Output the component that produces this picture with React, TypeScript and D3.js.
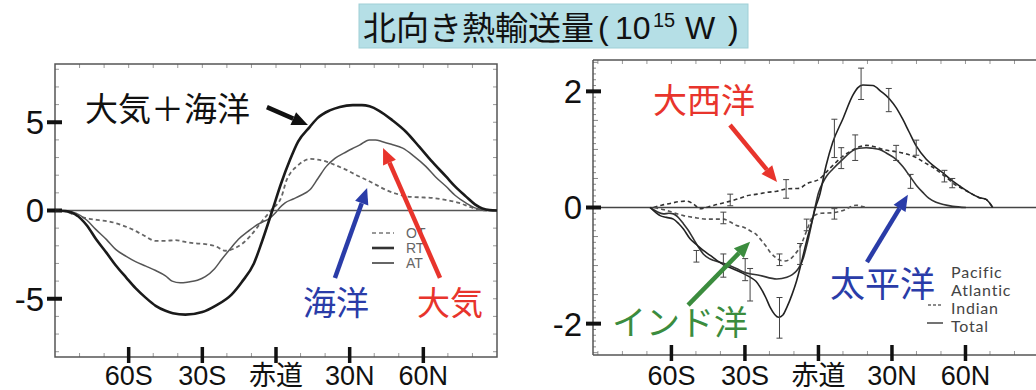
import React from 'react';
import * as d3 from 'd3';

type Pt = [number, number];

// ---- left panel: zonal mean northward heat transport (PW) ----
const rtData: Pt[] = [
  [-90, 0], [-85, -0.05], [-81.5, -0.24], [-77, -0.85], [-73.4, -1.6], [-69, -2.4], [-65.3, -3.1], [-61, -3.8],
  [-57.2, -4.4], [-53, -4.95], [-49, -5.4], [-45, -5.68], [-42, -5.82], [-36.9, -5.9], [-30, -5.75],
  [-24.7, -5.4], [-18, -4.75], [-13.9, -4.05], [-9, -3.0], [-5.8, -1.8], [-1.5, 0], [2, 1.5], [5.7, 2.87],
  [9, 3.9], [13.8, 4.74], [17, 5.25], [21.9, 5.67], [26, 5.87], [31.3, 5.97], [35, 5.97], [38.1, 5.9],
  [42, 5.65], [47.5, 5.1], [53, 4.45], [58.4, 3.6], [63, 2.85], [69.2, 1.93], [73, 1.35], [77.3, 0.8],
  [81, 0.35], [84, 0.12], [87, 0.02], [90, 0],
];
const atData: Pt[] = [
  [-90, 0], [-85, -0.05], [-81.5, -0.15], [-77, -0.55], [-73.4, -1.07], [-69, -1.65], [-65.3, -2.2],
  [-61, -2.6], [-57.2, -2.9], [-53, -3.15], [-49, -3.4], [-45, -3.7], [-42.3, -4.0], [-39, -4.1],
  [-35.7, -4.05], [-32, -3.95], [-28.8, -3.75], [-25, -3.3], [-22, -2.75], [-18.5, -2.15], [-15.3, -1.63],
  [-11.5, -1.2], [-8.5, -0.88], [-5.5, -0.65], [-3.2, -0.5], [0, -0.1], [1.5, 0.15], [3.7, 0.43], [7, 0.65],
  [10, 0.85], [13.8, 1.17], [17, 1.8], [20.5, 2.5], [24, 2.95], [28.7, 3.33], [31, 3.5], [34, 3.7],
  [38, 4.0], [40.5, 4.0], [43.4, 3.9], [47, 3.75], [51.6, 3.53], [56, 3.1], [61, 2.5], [65, 1.9],
  [69.2, 1.37], [73, 0.85], [77.3, 0.43], [81, 0.15], [84, 0.05], [90, 0],
];
const otData: Pt[] = [
  [-90, 0], [-86, -0.05], [-81, -0.3], [-76, -0.47], [-72, -0.55], [-68, -0.62], [-63, -0.82],
  [-58.5, -1.07], [-54, -1.4], [-49, -1.72], [-45, -1.72], [-41, -1.68], [-37, -1.78], [-32.8, -1.86],
  [-28, -1.92], [-24.7, -2.02], [-20.7, -2.28], [-17, -2.15], [-13.9, -1.9], [-10.5, -1.45], [-7.2, -0.88],
  [-4.5, -0.4], [-1.8, 0.04], [2.3, 0.8], [4.3, 1.72], [6, 2.15], [8.4, 2.49], [11, 2.78], [13.8, 2.92],
  [17, 2.88], [20.5, 2.77], [24.5, 2.55], [28.7, 2.3], [32.8, 2.0], [36.8, 1.74], [40.8, 1.45],
  [44.9, 1.16], [49, 0.95], [53, 0.8], [58, 0.75], [63.8, 0.71], [69, 0.6], [74.6, 0.43], [79, 0.2],
  [82.7, 0.04], [86, 0],
];

// ---- right panel: ocean basins ----
const totalData: Pt[] = [
  [-68.7, 0], [-66, -0.1], [-64.6, -0.14], [-62, -0.17], [-59.2, -0.2], [-57, -0.28], [-55.1, -0.37],
  [-52.4, -0.54], [-49.5, -0.65], [-47, -0.74], [-44, -0.83], [-41.5, -0.91], [-38, -1.0], [-34.7, -1.06],
  [-31, -1.13], [-27.9, -1.2], [-25.5, -1.27], [-23.8, -1.37], [-21.5, -1.55], [-19.7, -1.72],
  [-16.3, -1.89], [-14.5, -1.85], [-12.9, -1.72], [-10.8, -1.5], [-8.9, -1.26], [-6.8, -0.92],
  [-4.8, -0.57], [-2.4, -0.2], [-1.2, 0], [0.4, 0.2], [3.1, 0.72], [5.8, 1.12], [9.9, 1.52], [14, 1.93],
  [16, 2.06], [18.1, 2.11], [22.2, 2.1], [25.5, 2.0], [29, 1.87], [31.7, 1.72], [34.4, 1.52], [37, 1.3],
  [39.9, 1.06], [44, 0.83], [47.5, 0.7], [50.7, 0.6], [54, 0.48], [57.6, 0.37], [61.5, 0.26],
  [65.7, 0.17], [68.4, 0.14], [71.1, 0],
];
const pacificData: Pt[] = [
  [-68.7, 0], [-66, -0.07], [-63.3, -0.11], [-61, -0.1], [-59.2, -0.11], [-57, -0.18], [-55.1, -0.28],
  [-53, -0.4], [-51, -0.54], [-49, -0.68], [-47, -0.8], [-44.5, -0.88], [-42.9, -0.91], [-37.4, -0.98],
  [-33.5, -1.05], [-30.6, -1.11], [-23.8, -1.17], [-17, -1.23], [-12.9, -1.2], [-10.5, -1.15],
  [-8.9, -1.09], [-7.5, -1.0], [-6.1, -0.86], [-4.6, -0.62], [-3.4, -0.4], [-1.4, 0], [0, 0.25],
  [1.8, 0.43], [3.5, 0.55], [5.8, 0.66], [9.9, 0.83], [14, 0.98], [16.5, 1.02], [19.5, 1.03], [22, 1.02],
  [24.9, 1.0], [28, 0.93], [31.7, 0.83], [34.5, 0.7], [37.1, 0.55], [40, 0.38], [42.6, 0.26], [45, 0.16],
  [48, 0.09], [51, 0.05], [54.8, 0.02], [60.2, 0],
];
const atlanticData: Pt[] = [
  [-67.3, 0], [-64, 0.04], [-60.5, 0.07], [-57, 0.1], [-53.8, 0.11], [-51, 0.06], [-48.3, -0.02],
  [-45, 0.01], [-41.5, 0.05], [-36, 0.11], [-32, 0.16], [-29.3, 0.2], [-25, 0.23], [-21.1, 0.26],
  [-17, 0.28], [-12.9, 0.32], [-7.8, 0.33], [-4.8, 0.41], [0.4, 0.49], [3, 0.6], [5.8, 0.72], [9.9, 0.88],
  [14, 0.99], [17, 1.05], [19.5, 1.07], [22.5, 1.05], [26.2, 1.0], [31.7, 0.96], [36, 0.92], [39.9, 0.86],
  [43, 0.78], [46.7, 0.69], [52.1, 0.52], [56.2, 0.38], [59, 0.32], [61.5, 0.26], [65.7, 0.17],
  [68.4, 0.14], [71.1, 0],
];
const indianData: Pt[] = [
  [-67, 0], [-63, -0.04], [-60.5, -0.07], [-55.1, -0.14], [-51, -0.17], [-45.6, -0.2], [-38.8, -0.2],
  [-36, -0.25], [-33.4, -0.31], [-30.5, -0.34], [-27.9, -0.4], [-25.5, -0.46], [-23.8, -0.54],
  [-21.5, -0.66], [-19.7, -0.77], [-17.5, -0.86], [-15.6, -0.91], [-13.5, -0.92], [-11.6, -0.89],
  [-9.5, -0.8], [-7.5, -0.68], [-4.8, -0.4], [-2.3, -0.16], [1, -0.1], [5.8, -0.09], [8.5, -0.07],
  [11.3, -0.03], [13.5, 0.02], [15.4, 0.04], [17.5, 0.02], [19.5, 0],
];

// error bars: [lat, centre, half-width]
const totalErr = [[-49.8, -0.84, 0.1], [-27.9, -1.33, 0.28], [-15.9, -1.9, 0.35], [-7.5, -0.8, 0.18],
  [6.5, 1.19, 0.33], [17.4, 2.13, 0.27], [28.7, 1.85, 0.2], [39.9, 1.03, 0.13], [54.6, 0.42, 0.08]];
const pacificErr = [[-38.8, -1.0, 0.2], [-29.9, -1.07, 0.19], [15, 1.03, 0.22], [37.6, 0.45, 0.12]];
const indianErr = [[-38.8, -0.18, 0.1], [-15.9, -0.9, 0.1], [-4.8, -0.3, 0.1], [6.5, -0.11, 0.09]];
const atlanticErr = [[-36, 0.13, 0.1], [-13.2, 0.32, 0.16], [9.3, 0.85, 0.18], [31.7, 0.94, 0.13], [51.4, 0.54, 0.1]];

const xTicks = [-60, -30, 0, 30, 60];
const xTickLabels = ['60S', '30S', '赤道', '30N', '60N'];
const yTicksL = [-5, 0, 5];
const yTicksR = [-2, 0, 2];
const legendL = ['OT', 'RT', 'AT'];
const legendR = ['Pacific', 'Atlantic', 'Indian', 'Total'];

const JP = '"Noto Sans CJK JP", sans-serif';
const SANS = '"Liberation Sans", Arial, "Noto Sans CJK JP", sans-serif';
const RED = '#e8342c';
const BLUE = '#2a3ca8';
const GREEN = '#3b8c3e';

const xL = d3.scaleLinear().domain([-90, 90]).range([55, 497]);
const yL = d3.scaleLinear().domain([-8.3, 8.3]).range([357, 64]);
const xR = d3.scaleLinear().domain([-92, 90]).range([593, 1039]);
const yR = d3.scaleLinear().domain([-2.54, 2.54]).range([355, 60]);

const Arrow = ({ x1, y1, x2, y2, color }: { x1: number; y1: number; x2: number; y2: number; color: string }) => {
  const a = Math.atan2(y2 - y1, x2 - x1);
  const L = 16, W = 7;
  const bx = x2 - L * Math.cos(a), by = y2 - L * Math.sin(a);
  const p = [
    [x2, y2],
    [bx + W * Math.sin(a), by - W * Math.cos(a)],
    [bx - W * Math.sin(a), by + W * Math.cos(a)],
  ];
  return (
    <g>
      <line x1={x1} y1={y1} x2={bx} y2={by} stroke={color} strokeWidth={4.5} />
      <polygon points={p.map(d => d.join(',')).join(' ')} fill={color} />
    </g>
  );
};

const App = () => {
  const lineL = d3.line<Pt>().x(d => xL(d[0])).y(d => yL(d[1])).curve(d3.curveMonotoneX);
  const lineR = d3.line<Pt>().x(d => xR(d[0])).y(d => yR(d[1])).curve(d3.curveMonotoneX);

  const errBars = (rows: number[][], key: string) =>
    rows.map((r, i) => {
      const x = xR(r[0]);
      const y1 = yR(r[1] + r[2]);
      const y2 = yR(r[1] - r[2]);
      return (
        <g key={key + i} stroke="#444" strokeWidth={1}>
          <line x1={x} x2={x} y1={y1} y2={y2} />
          <line x1={x - 3} x2={x + 3} y1={y1} y2={y1} />
          <line x1={x - 3} x2={x + 3} y1={y2} y2={y2} />
        </g>
      );
    });

  const [l0, l1] = xL.range();
  const [t0, b0] = [yL.range()[1], yL.range()[0]];
  const [r0, r1] = xR.range();
  const [t1, b1] = [yR.range()[1], yR.range()[0]];

  return (
    <svg width={1036} height={390} style={{ position: 'absolute', left: 0, top: 0, background: '#fff' }}>
      {/* title */}
      <rect x={359} y={4} width={389} height={44} fill="#b5dfe6" stroke="#9fcfd6" />
      <g fill="#111">
        <text x={363} y={40} fontFamily={JP} fontSize={33}>北向き熱輸送量</text>
        <text x={598} y={39} fontFamily={SANS} fontSize={32}>(</text>
        <text x={615} y={39} fontFamily={SANS} fontSize={32}>10</text>
        <text x={653} y={27} fontFamily={SANS} fontSize={20}>15</text>
        <text x={685} y={39} fontFamily={SANS} fontSize={32}>W</text>
        <text x={728} y={39} fontFamily={SANS} fontSize={32}>)</text>
      </g>

      {/* ---------- left panel ---------- */}
      <g>
        {d3.range(-80, 90, 10).map(v => (
          <g key={'lmx' + v} stroke="#999" strokeWidth={1}>
            <line x1={xL(v)} x2={xL(v)} y1={b0} y2={b0 - 4} />
            <line x1={xL(v)} x2={xL(v)} y1={t0} y2={t0 + 4} />
          </g>
        ))}
        {d3.range(-8, 9, 1).map(v => (
          <g key={'lmy' + v} stroke="#999" strokeWidth={1}>
            <line x1={l0} x2={l0 + 4} y1={yL(v)} y2={yL(v)} />
            <line x1={l1} x2={l1 - 4} y1={yL(v)} y2={yL(v)} />
          </g>
        ))}
        <rect x={l0} y={t0} width={l1 - l0} height={b0 - t0} fill="none" stroke="#555" strokeWidth={1.5} />
        <line x1={l0} x2={l1} y1={yL(0)} y2={yL(0)} stroke="#555" strokeWidth={1.5} />
        {yTicksL.map(v => (
          <g key={'lyt' + v}>
            <line x1={l0 - 8} x2={l0 + 7} y1={yL(v)} y2={yL(v)} stroke="#111" strokeWidth={4} />
            <text x={44} y={yL(v)} dy="0.36em" textAnchor="end" fontFamily={SANS} fontSize={33} fill="#111">{v}</text>
          </g>
        ))}
        {xTicks.map((v, i) => (
          <g key={'lxt' + v}>
            <line x1={xL(v)} x2={xL(v)} y1={b0 - 10} y2={b0 + 6} stroke="#111" strokeWidth={3.5} />
            <text x={xL(v)} y={385} textAnchor="middle" fontFamily={SANS} fontSize={27} fill="#111">{xTickLabels[i]}</text>
          </g>
        ))}

        <path d={lineL(otData) || ''} fill="none" stroke="#666" strokeWidth={1.8} strokeDasharray="4,3" />
        <path d={lineL(atData) || ''} fill="none" stroke="#555" strokeWidth={1.5} />
        <path d={lineL(rtData) || ''} fill="none" stroke="#1a1a1a" strokeWidth={2.6} />

        {/* legend */}
        {legendL.map((s, i) => (
          <g key={'ll' + s}>
            <line x1={372} x2={394} y1={233 + i * 15} y2={233 + i * 15} stroke={i === 0 ? '#777' : '#333'}
              strokeWidth={i === 1 ? 2.6 : 1.5} strokeDasharray={i === 0 ? '4,3' : undefined} />
            <text x={406} y={238 + i * 15} fontFamily={SANS} fontSize={14} fill="#666">{s}</text>
          </g>
        ))}

        <text x={xL(-77.8)} y={yL(5.07)} fontFamily={JP} fontSize={33} fill="#111">大気＋海洋</text>
        <Arrow x1={xL(-3.7)} y1={yL(5.86)} x2={xL(13)} y2={yL(4.84)} color="#111" />
        <text x={xL(11)} y={yL(-5.9)} fontFamily={JP} fontSize={33} fill={BLUE}>海洋</text>
        <Arrow x1={xL(24)} y1={yL(-3.82)} x2={xL(37.1)} y2={yL(1.27)} color={BLUE} />
        <text x={xL(57.4)} y={yL(-5.9)} fontFamily={JP} fontSize={33} fill={RED}>大気</text>
        <Arrow x1={xL(66.8)} y1={yL(-3.82)} x2={xL(43.6)} y2={yL(3.54)} color={RED} />
      </g>

      {/* ---------- right panel ---------- */}
      <g>
        {d3.range(-90, 91, 10).map(v => (
          <g key={'rmx' + v} stroke="#999" strokeWidth={1}>
            <line x1={xR(v)} x2={xR(v)} y1={b1} y2={b1 - 4} />
            <line x1={xR(v)} x2={xR(v)} y1={t1} y2={t1 + 4} />
          </g>
        ))}
        {d3.range(-25, 26, 1).map(v => (
          <line key={'rmy' + v} x1={r0} x2={r0 + (v % 5 === 0 ? 5 : 3)} y1={yR(v / 10)} y2={yR(v / 10)} stroke="#888" strokeWidth={1} />
        ))}
        <line x1={r0} x2={r1} y1={t1} y2={t1} stroke="#555" strokeWidth={1.5} />
        <line x1={r0} x2={r1} y1={b1} y2={b1} stroke="#555" strokeWidth={1.5} />
        <line x1={r0} x2={r0} y1={t1} y2={b1} stroke="#555" strokeWidth={1.5} />
        <line x1={r0} x2={r1} y1={yR(0)} y2={yR(0)} stroke="#444" strokeWidth={1.5} />
        {yTicksR.map(v => (
          <g key={'ryt' + v}>
            <line x1={r0 - 7} x2={r0 + 8} y1={yR(v)} y2={yR(v)} stroke="#111" strokeWidth={4} />
            <text x={582} y={yR(v)} dy="0.36em" textAnchor="end" fontFamily={SANS} fontSize={33} fill="#111">{v}</text>
          </g>
        ))}
        {xTicks.map((v, i) => (
          <g key={'rxt' + v}>
            <line x1={xR(v)} x2={xR(v)} y1={b1 - 10} y2={b1 + 6} stroke="#111" strokeWidth={3.5} />
            <text x={xR(v)} y={385} textAnchor="middle" fontFamily={SANS} fontSize={27} fill="#111">{xTickLabels[i]}</text>
          </g>
        ))}

        <path d={lineR(atlanticData) || ''} fill="none" stroke="#333" strokeWidth={1.6} strokeDasharray="4,3" />
        <path d={lineR(indianData) || ''} fill="none" stroke="#555" strokeWidth={1.6} strokeDasharray="4,3" />
        <path d={lineR(pacificData) || ''} fill="none" stroke="#333" strokeWidth={1.6} />
        <path d={lineR(totalData) || ''} fill="none" stroke="#222" strokeWidth={1.6} />
        {errBars(totalErr, 'te')}
        {errBars(pacificErr, 'pe')}
        {errBars(indianErr, 'ie')}
        {errBars(atlanticErr, 'ae')}

        {legendR.map((s, i) => (
          <text key={'lr' + s} x={951} y={278 + i * 18} fontFamily='Lato, "DejaVu Sans", sans-serif' fontSize={16}
            letterSpacing={0.8} fill="#444">{s}</text>
        ))}
        <line x1={928} x2={941} y1={305} y2={305} stroke="#666" strokeWidth={1.5} strokeDasharray="3,2" />
        <line x1={927} x2={943} y1={323} y2={323} stroke="#444" strokeWidth={1.5} />

        <text x={xR(-67.5)} y={yR(1.63)} fontFamily={JP} fontSize={34} fill={RED}>大西洋</text>
        <Arrow x1={xR(-36.1)} y1={yR(1.42)} x2={xR(-16.9)} y2={yR(0.44)} color={RED} />
        <text x={xR(-84.2)} y={yR(-2.2)} fontFamily={JP} fontSize={34} fill={GREEN}>インド洋</text>
        <Arrow x1={xR(-53.2)} y1={yR(-1.68)} x2={xR(-27.9)} y2={yR(-0.59)} color={GREEN} />
        <text x={xR(4.7)} y={yR(-1.54)} fontFamily={JP} fontSize={35} fill={BLUE}>太平洋</text>
        <Arrow x1={xR(19.8)} y1={yR(-0.94)} x2={xR(36.5)} y2={yR(0.22)} color={BLUE} />
      </g>
    </svg>
  );
};

export default App;
